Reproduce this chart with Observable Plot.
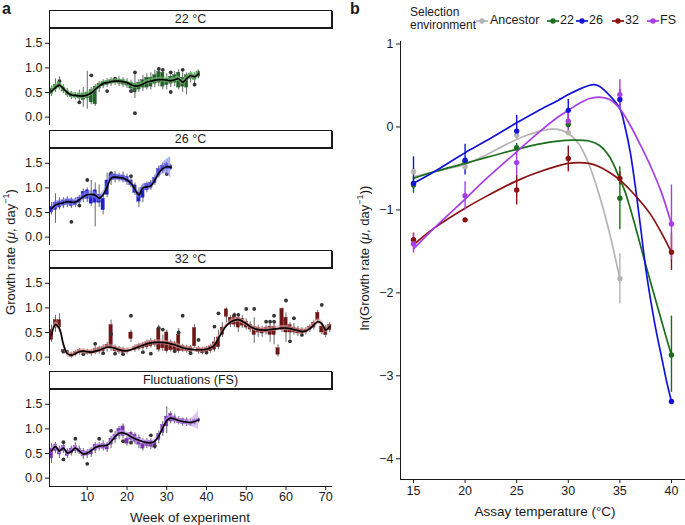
<!DOCTYPE html>
<html><head><meta charset="utf-8">
<script src="https://cdn.jsdelivr.net/npm/d3@7"></script>
<script src="https://cdn.jsdelivr.net/npm/@observablehq/plot@0.6"></script>
<style>
body{margin:0;background:#fff;font-family:"Liberation Sans",Arial,sans-serif;}
#root{position:relative;width:685px;height:525px;overflow:hidden;background:#fff;color:#1a1a1a}
.strip{position:absolute;left:49px;width:281px;height:16px;border:1px solid #1a1a1a;background:#fff;font-size:12.5px;line-height:17px;text-align:center;box-shadow:1px 1px 0 #1a1a1a}
.c{position:absolute;transform:translate(-50%,-50%);white-space:nowrap}
.rot{transform:translate(-50%,-50%) rotate(-90deg)}
.lab{position:absolute;font-weight:bold;font-size:16px}
.leg{position:absolute;font-size:12px;white-space:nowrap}
sup{font-size:0.7em;line-height:0}
</style></head>
<body><div id="root"></div>
<script>
// ---------- Panel a: weekly growth rates ----------
const facetNames = ["22 °C", "26 °C", "32 °C", "Fluctuations (FS)"];
const weekTicks = [10, 20, 30, 40, 50, 60, 70];
const rateTicks = [0, 0.5, 1, 1.5];

const smooth22 = [0.52,0.60,0.65,0.58,0.50,0.45,0.44,0.43,0.43,0.45,0.49,0.56,0.63,0.68,0.70,0.72,0.73,0.73,0.72,0.70,0.66,0.63,0.64,0.67,0.71,0.73,0.75,0.76,0.76,0.75,0.74,0.76,0.78,0.71,0.78,0.84,0.82,0.88];
const se22 = [0.08,0.07,0.07,0.06,0.06,0.06,0.06,0.06,0.06,0.06,0.06,0.06,0.06,0.05,0.05,0.05,0.05,0.05,0.05,0.05,0.05,0.05,0.05,0.05,0.05,0.05,0.05,0.05,0.05,0.05,0.05,0.05,0.06,0.06,0.06,0.07,0.08,0.10];
const box22 = [[0.42,0.47,0.58,0.63],[0.50,0.56,0.66,0.78],[0.55,0.60,0.70,0.82],[0.48,0.52,0.60,0.66],[0.40,0.45,0.52,0.58],[0.36,0.41,0.48,0.52],[0.35,0.40,0.46,0.50],[0.30,0.38,0.47,0.55],[0.20,0.35,0.48,0.60],[0.16,0.38,0.50,0.93],[0.25,0.30,0.55,0.60],[0.22,0.26,0.62,0.66],[0.50,0.58,0.68,0.72],[0.58,0.63,0.72,0.76],[0.60,0.65,0.73,0.78],[0.62,0.68,0.75,0.80],[0.64,0.69,0.77,0.80],[0.62,0.68,0.76,0.82],[0.60,0.66,0.75,0.80],[0.58,0.64,0.72,0.78],[0.50,0.58,0.70,0.75],[0.38,0.50,0.68,0.88],[0.50,0.56,0.70,0.76],[0.52,0.60,0.75,0.85],[0.55,0.60,0.80,0.88],[0.55,0.62,0.80,0.90],[0.60,0.68,0.85,0.95],[0.62,0.70,0.92,0.96],[0.55,0.62,0.90,0.96],[0.55,0.65,0.78,0.88],[0.60,0.68,0.82,0.90],[0.62,0.70,0.85,0.92],[0.55,0.60,0.90,0.96],[0.50,0.62,0.80,0.90],[0.45,0.60,0.85,0.90],[0.70,0.78,0.88,0.92],[0.68,0.76,0.86,0.90],[0.78,0.82,0.92,0.95]];
const out22 = [[3,0.73],[8,0.30],[11,0.85],[15,0.53],[17,0.78],[21,0.53],[22,0.91],[22,0.08],[28,0.98],[29,0.96],[31,0.51],[31,0.91],[34,0.96],[37,0.66]];

const smooth26 = [0.58,0.65,0.68,0.70,0.72,0.71,0.71,0.76,0.82,0.86,0.87,0.85,0.79,0.86,1.02,1.20,1.22,1.21,1.20,1.16,1.10,0.97,0.86,1.00,1.02,1.04,1.16,1.30,1.39,1.43,1.42];
const se26 = [0.09,0.08,0.07,0.07,0.07,0.07,0.07,0.07,0.07,0.07,0.07,0.07,0.07,0.07,0.07,0.07,0.06,0.06,0.06,0.06,0.06,0.06,0.07,0.07,0.07,0.07,0.08,0.09,0.11,0.15,0.22];
const box26 = [[0.45,0.50,0.62,0.70],[0.28,0.55,0.70,0.88],[0.55,0.60,0.72,0.80],[0.58,0.64,0.74,0.80],[0.60,0.66,0.76,0.82],[0.58,0.63,0.75,0.80],[0.60,0.65,0.74,0.80],[0.62,0.70,0.80,0.85],[0.70,0.78,0.92,0.98],[0.70,0.78,0.95,1.00],[0.62,0.68,0.86,1.15],[0.21,0.70,0.95,1.10],[0.60,0.70,0.86,1.06],[0.45,0.55,0.78,0.85],[0.80,0.86,1.15,1.30],[1.05,1.15,1.28,1.32],[1.10,1.17,1.27,1.33],[1.12,1.17,1.25,1.30],[1.10,1.15,1.25,1.32],[1.05,1.12,1.22,1.28],[1.00,1.05,1.15,1.25],[0.85,0.90,1.05,1.10],[0.60,0.72,0.90,1.00],[0.70,0.80,1.00,1.08],[0.90,0.95,1.08,1.12],[0.95,1.00,1.10,1.15],[1.05,1.10,1.20,1.25],[1.20,1.25,1.38,1.45],[1.30,1.35,1.45,1.50],[1.32,1.38,1.48,1.52],[1.35,1.38,1.44,1.48]];
const out26 = [[6,0.31],[8,0.64],[10,1.16],[16,1.30],[21,1.24],[30,1.28]];

const smooth32 = [0.45,0.66,0.58,0.26,0.07,0.04,0.07,0.11,0.12,0.11,0.10,0.12,0.14,0.17,0.20,0.20,0.18,0.15,0.13,0.13,0.15,0.18,0.21,0.24,0.27,0.29,0.30,0.30,0.30,0.29,0.27,0.25,0.22,0.19,0.17,0.16,0.15,0.15,0.15,0.16,0.19,0.24,0.38,0.52,0.64,0.71,0.75,0.76,0.73,0.68,0.62,0.58,0.56,0.55,0.55,0.56,0.57,0.58,0.59,0.59,0.58,0.56,0.54,0.52,0.53,0.58,0.65,0.72,0.68,0.55,0.62];
const se32 = [0.07,0.06,0.06,0.06,0.06,0.05,0.05,0.05,0.05,0.05,0.05,0.05,0.05,0.05,0.05,0.05,0.05,0.05,0.05,0.05,0.05,0.05,0.05,0.05,0.05,0.05,0.05,0.05,0.05,0.05,0.05,0.05,0.05,0.05,0.05,0.05,0.05,0.05,0.05,0.05,0.05,0.05,0.05,0.05,0.05,0.05,0.05,0.05,0.05,0.05,0.05,0.05,0.05,0.05,0.05,0.05,0.05,0.05,0.05,0.05,0.05,0.05,0.05,0.05,0.05,0.05,0.06,0.06,0.06,0.06,0.07];
const box32 = [[0.30,0.35,0.55,0.65],[0.50,0.60,0.75,0.85],[0.50,0.60,0.75,0.88],[0.08,0.10,0.14,0.16],[0.06,0.08,0.12,0.14],[-0.02,0.00,0.06,0.10],[0.02,0.05,0.10,0.14],[0.04,0.08,0.14,0.18],[0.06,0.09,0.13,0.16],[0.04,0.07,0.12,0.16],[0.02,0.06,0.12,0.15],[0.05,0.08,0.16,0.22],[0.06,0.10,0.18,0.22],[0.08,0.12,0.20,0.25],[0.10,0.18,0.25,0.30],[0.12,0.20,0.65,0.75],[0.08,0.12,0.20,0.25],[0.06,0.10,0.18,0.22],[0.05,0.08,0.16,0.20],[0.06,0.10,0.14,0.18],[0.30,0.37,0.50,0.55],[0.10,0.14,0.20,0.25],[0.12,0.16,0.24,0.28],[0.14,0.18,0.26,0.30],[0.15,0.20,0.30,0.35],[0.18,0.22,0.32,0.38],[0.20,0.25,0.32,0.36],[0.10,0.15,0.58,0.65],[0.12,0.18,0.30,0.45],[0.08,0.12,0.50,0.55],[0.10,0.14,0.30,0.35],[0.10,0.14,0.28,0.32],[0.08,0.12,0.45,0.58],[0.10,0.13,0.22,0.26],[0.08,0.12,0.20,0.24],[0.06,0.10,0.20,0.24],[0.18,0.22,0.59,0.66],[0.06,0.10,0.18,0.22],[0.05,0.08,0.16,0.20],[0.06,0.10,0.18,0.22],[0.08,0.12,0.22,0.26],[0.10,0.15,0.30,0.40],[0.15,0.20,0.40,0.55],[0.40,0.45,0.60,0.70],[0.70,0.82,0.97,1.00],[0.60,0.66,0.80,0.85],[0.60,0.66,0.84,0.90],[0.50,0.60,0.80,0.88],[0.58,0.64,0.78,0.84],[0.55,0.60,0.72,0.78],[0.50,0.56,0.66,0.72],[0.28,0.45,0.62,0.80],[0.40,0.50,0.60,0.65],[0.40,0.48,0.58,0.62],[0.45,0.50,0.60,0.64],[0.30,0.45,0.62,0.70],[0.25,0.45,0.62,0.72],[0.00,0.05,0.18,0.25],[0.50,0.55,0.98,1.00],[0.30,0.50,0.80,0.90],[0.35,0.50,0.65,0.70],[0.45,0.50,0.60,0.68],[0.42,0.48,0.58,0.62],[0.45,0.48,0.56,0.60],[0.45,0.50,0.56,0.60],[0.50,0.55,0.62,0.66],[0.55,0.60,0.70,0.75],[0.70,0.75,0.90,0.95],[0.45,0.50,0.62,0.70],[0.40,0.45,0.60,0.65],[0.50,0.55,0.65,0.70]];
const out32 = [[4,0.11],[9,0.06],[12,0.27],[14,0.08],[16,0.47],[17,0.07],[19,0.06],[21,0.84],[24,0.10],[26,0.07],[28,0.59],[29,0.56],[32,0.12],[33,0.50],[34,0.84],[36,0.08],[38,0.35],[40,0.09],[42,0.62],[43,0.89],[47,0.86],[48,0.86],[50,0.98],[52,0.98],[55,0.72],[56,0.72],[57,0.72],[57,0.84],[60,1.15],[61,0.32],[62,0.79],[64,0.45],[69,1.06]];

const smoothFS = [0.55,0.64,0.55,0.61,0.51,0.54,0.61,0.55,0.49,0.51,0.56,0.62,0.65,0.66,0.67,0.74,0.84,0.91,0.92,0.89,0.84,0.80,0.77,0.74,0.72,0.72,0.75,0.86,1.02,1.17,1.22,1.20,1.17,1.15,1.14,1.13,1.15,1.18];
const seFS = [0.07,0.06,0.06,0.05,0.05,0.05,0.05,0.05,0.05,0.05,0.05,0.05,0.05,0.05,0.05,0.05,0.05,0.05,0.05,0.05,0.05,0.05,0.05,0.05,0.05,0.05,0.05,0.05,0.05,0.05,0.05,0.05,0.05,0.05,0.06,0.08,0.12,0.20];
const boxFS = [[0.30,0.40,0.60,0.70],[0.50,0.55,0.68,0.72],[0.40,0.48,0.60,0.65],[0.50,0.55,0.65,0.70],[0.40,0.45,0.56,0.60],[0.45,0.50,0.60,0.65],[0.50,0.55,0.65,0.72],[0.48,0.52,0.60,0.65],[0.38,0.44,0.55,0.60],[0.40,0.46,0.54,0.58],[0.42,0.48,0.58,0.62],[0.50,0.56,0.68,0.72],[0.55,0.60,0.68,0.72],[0.55,0.60,0.70,0.76],[0.52,0.58,0.66,0.72],[0.60,0.68,0.80,0.85],[0.70,0.78,0.88,0.95],[0.78,0.85,1.00,1.05],[0.80,0.86,1.05,1.10],[0.65,0.70,0.80,0.92],[0.72,0.78,0.92,0.95],[0.68,0.74,0.88,0.92],[0.60,0.68,0.82,0.88],[0.55,0.60,0.70,0.80],[0.60,0.65,0.75,0.80],[0.58,0.64,0.76,0.80],[0.58,0.62,0.72,0.78],[0.70,0.78,0.90,0.95],[0.85,0.92,1.08,1.15],[0.90,1.05,1.25,1.45],[1.10,1.15,1.30,1.35],[1.10,1.15,1.25,1.30],[1.08,1.12,1.20,1.25],[1.05,1.10,1.20,1.22],[1.05,1.10,1.18,1.22],[1.05,1.08,1.15,1.20],[1.08,1.10,1.18,1.20],[1.12,1.15,1.20,1.22]];
const outFS = [[4,0.73],[4,0.38],[7,0.80],[10,0.29],[13,0.80],[16,0.96],[19,0.75],[21,0.72],[26,0.87],[27,0.65]];

const boxColors = ["#24612a", "#2222c4", "#6e1616", "#7a33b0"];
const ribbonColors = ["#78c078", "#7c7cf2", "#e3a0a0", "#c59cf0"];

// ---------- Panel b: thermal performance ----------
const groups = ["Ancestor", "22", "26", "32", "FS"];
const groupColors = ["#b4b4b4", "#1c6e1c", "#1212d8", "#8b1010", "#a63ee6"];
const temps = [15, 20, 25, 30, 35, 40];
const tempTicks = [15, 20, 25, 30, 35, 40];
const lnTicks = [-4, -3, -2, -1, 0, 1];

const ancMean = [-0.54, -0.48, -0.10, -0.07, -1.83, null];
const ancLo   = [-0.58, -0.52, -0.15, -0.10, -2.13, null];
const ancHi   = [-0.50, -0.44, -0.05, -0.03, -1.53, null];
const g22Mean = [-0.70, -0.42, -0.25, 0.03, -0.86, -2.75];
const g22Lo   = [-0.80, -0.47, -0.30, -0.02, -1.24, -3.20];
const g22Hi   = [-0.64, -0.38, -0.20, 0.08, -0.48, -2.28];
const g26Mean = [-0.68, -0.40, -0.05, 0.20, 0.33, -3.31];
const g26Lo   = [-0.75, -0.58, -0.11, 0.08, 0.20, -3.33];
const g26Hi   = [-0.36, -0.21, 0.14, 0.33, 0.45, -3.29];
const g32Mean = [-1.36, -1.12, -0.76, -0.38, -0.62, -1.51];
const g32Lo   = [-1.44, -1.14, -0.94, -0.54, -0.70, -1.73];
const g32Hi   = [-1.28, -1.10, -0.58, -0.23, -0.54, -1.28];
const gFSMean = [-1.41, -0.83, -0.43, 0.07, 0.39, -1.17];
const gFSLo   = [-1.52, -1.00, -0.58, -0.05, 0.20, -1.60];
const gFSHi   = [-1.28, -0.66, -0.27, 0.20, 0.57, -0.70];

const ancCurve = [[15,-0.60],[17,-0.54],[20,-0.45],[22,-0.34],[24,-0.21],[26,-0.10],[27,-0.06],[28,-0.03],[29,-0.03],[30,-0.08],[31,-0.20],[32,-0.45],[33,-0.82],[34,-1.28],[35,-1.83]];
const g22Curve = [[15,-0.62],[17,-0.54],[20,-0.44],[22,-0.37],[25,-0.27],[27,-0.21],[29,-0.17],[30.5,-0.16],[32,-0.17],[33,-0.22],[34,-0.36],[35,-0.63],[35.5,-0.78],[36,-0.98],[36.5,-1.20],[37,-1.43],[37.5,-1.66],[38,-1.88],[38.5,-2.10],[39,-2.32],[39.5,-2.54],[40,-2.75]];
const g26Curve = [[15,-0.68],[17,-0.54],[20,-0.31],[22,-0.17],[25,0.05],[27,0.19],[29,0.32],[30,0.39],[31,0.45],[32,0.50],[32.5,0.51],[33,0.49],[34,0.38],[35,0.22],[35.5,0.00],[36,-0.30],[36.5,-0.72],[37,-1.20],[37.5,-1.70],[38,-2.10],[38.5,-2.45],[39,-2.75],[39.5,-3.05],[40,-3.31]];
const g32Curve = [[15,-1.42],[17,-1.22],[20,-0.98],[22,-0.84],[25,-0.65],[27,-0.55],[29,-0.47],[30,-0.44],[31,-0.43],[32,-0.44],[33,-0.48],[34,-0.55],[35,-0.64],[36,-0.76],[37,-0.90],[38,-1.06],[39,-1.27],[40,-1.51]];
const gFSCurve = [[15,-1.47],[17,-1.22],[20,-0.87],[22,-0.63],[25,-0.30],[27,-0.08],[29,0.12],[30,0.20],[31,0.28],[32,0.34],[33,0.36],[34,0.33],[35,0.22],[36,0.02],[37,-0.22],[38,-0.48],[39,-0.78],[40,-1.17]];

// ---------- build ----------
const root = document.getElementById("root");
function add(html, cls, left, top, extra) {
  const d = document.createElement("div");
  d.className = cls; d.innerHTML = html;
  d.style.left = left + "px"; d.style.top = top + "px";
  if (extra) Object.assign(d.style, extra);
  root.appendChild(d); return d;
}
function placeSvg(svg, left, top) {
  svg.style.position = "absolute"; svg.style.left = left + "px"; svg.style.top = top + "px";
  root.appendChild(svg);
}
const font = {fontFamily: "'Liberation Sans', Arial, sans-serif", fontSize: "12.5px", background: "transparent", color: "#1a1a1a", overflow: "visible"};

const facets = [
  [smooth22, se22, box22, out22],
  [smooth26, se26, box26, out26],
  [smooth32, se32, box32, out32],
  [smoothFS, seFS, boxFS, outFS]
];
const stripTops = [10, 130, 250, 371];
const yDom = [-0.17, 1.8];
const xDom = [0.5, 71.7];

facets.forEach(([sm, se, bx, outs], k) => {
  const last = k === 3;
  const rows = sm.map((s, i) => ({week: i + 1, s, se: se[i], lo: bx[i][0], q1: bx[i][1], q3: bx[i][2], hi: bx[i][3]}));
  const pts = outs.map(([week, v]) => ({week, v}));
  const marks = [
    Plot.ruleX(rows, {x: "week", y1: "lo", y2: "hi", stroke: "#555", strokeWidth: 0.9}),
    Plot.rect(rows, {x1: d => d.week - 0.42, x2: d => d.week + 0.42, y1: "q1", y2: "q3", fill: boxColors[k], stroke: boxColors[k], strokeWidth: 0.4}),
    Plot.dot(pts, {x: "week", y: "v", r: 1.9, fill: "#333", stroke: "none"}),
    Plot.areaY(rows, {x: "week", y1: d => d.s - d.se, y2: d => d.s + d.se, fill: ribbonColors[k], fillOpacity: 0.6, curve: "catmull-rom"}),
    Plot.lineY(rows, {x: "week", y: "s", stroke: "#000", strokeWidth: 1.7, curve: "catmull-rom"}),
    Plot.ruleX([xDom[0]], {stroke: "#1a1a1a", strokeWidth: 1})
  ];
  if (last) marks.push(Plot.ruleY([yDom[0]], {stroke: "#1a1a1a", strokeWidth: 1}));
  const svg = Plot.plot({
    width: 345, height: last ? 97 + 40 : 97,
    marginLeft: 49, marginRight: 13, marginTop: 0, marginBottom: last ? 40 : 0,
    style: font,
    x: {domain: xDom, axis: last ? "bottom" : null, ticks: weekTicks, tickSize: 4, tickPadding: 2, label: null},
    y: {domain: yDom, ticks: rateTicks, tickFormat: d3.format(".1f"), tickSize: 4, tickPadding: 3, label: null},
    marks
  });
  placeSvg(svg, 0, stripTops[k] + 18);
  add(facetNames[k], "strip", 0, stripTops[k], {left: "49px"});
});

add("a", "lab", 2, 0);
add("Growth rate (<i>μ</i>, day<sup>−1</sup>)", "c rot", 10, 252, {fontSize: "13px"});
add("Week of experiment", "c", 190, 517, {fontSize: "13.5px"});

// panel b
const bounds = [[ancMean, ancLo, ancHi], [g22Mean, g22Lo, g22Hi], [g26Mean, g26Lo, g26Hi], [g32Mean, g32Lo, g32Hi], [gFSMean, gFSLo, gFSHi]];
const errRows = [];
bounds.forEach(([m, lo, hi], gi) => temps.forEach((t, i) => {
  if (m[i] != null) errRows.push({g: groups[gi], t, m: m[i], lo: lo[i], hi: hi[i]});
}));
const curveRows = [];
[ancCurve, g22Curve, g26Curve, g32Curve, gFSCurve].forEach((c, gi) => c.forEach(([t, v]) => curveRows.push({g: groups[gi], t, v})));

const tDom = [13.74, 41.36], lDom = [-4.25, 1.03];
const svgB = Plot.plot({
  width: 340, height: 525,
  marginLeft: 55, marginRight: 0, marginTop: 41, marginBottom: 46,
  style: font,
  color: {domain: groups, range: groupColors},
  x: {domain: tDom, ticks: tempTicks, tickSize: 4, tickPadding: 3, label: null},
  y: {domain: lDom, ticks: lnTicks, tickFormat: d3.format("d"), tickSize: 4, tickPadding: 3, label: null},
  marks: [
    Plot.ruleX([tDom[0]], {stroke: "#1a1a1a"}),
    Plot.ruleY([lDom[0]], {stroke: "#1a1a1a"}),
    Plot.line(curveRows, {x: "t", y: "v", z: "g", stroke: "g", strokeWidth: 1.7, curve: "catmull-rom"}),
    Plot.ruleX(errRows, {x: "t", y1: "lo", y2: "hi", stroke: "g", strokeWidth: 1.4}),
    Plot.dot(errRows, {x: "t", y: "m", fill: "g", r: 2.7, stroke: "none"})
  ]
});
placeSvg(svgB, 345, 0);

add("b", "lab", 350, 0);
add("ln(Growth rate (<i>μ</i>, day<sup>−1</sup>))", "c rot", 364, 258, {fontSize: "13px"});
add("Assay temperature (°C)", "c", 545, 511, {fontSize: "13.5px"});

// legend
add("Selection<br>environment", "leg", 410, 6, {lineHeight: "13px", fontSize: "12px"});
const legX = [[476, 490], [547, 560], [576, 589], [612, 625], [647, 660]];
groups.forEach((g, i) => {
  const col = groupColors[i];
  add(`<svg width="12" height="10"><line x1="0" x2="12" y1="5" y2="5" stroke="${col}" stroke-width="1.7"/><circle cx="6" cy="5" r="2.7" fill="${col}"/></svg>`, "leg", legX[i][0], 16, {lineHeight: "0"});
  add(g, "leg", legX[i][1], 13, {fontSize: "12.5px"});
});
</script>
</body></html>
